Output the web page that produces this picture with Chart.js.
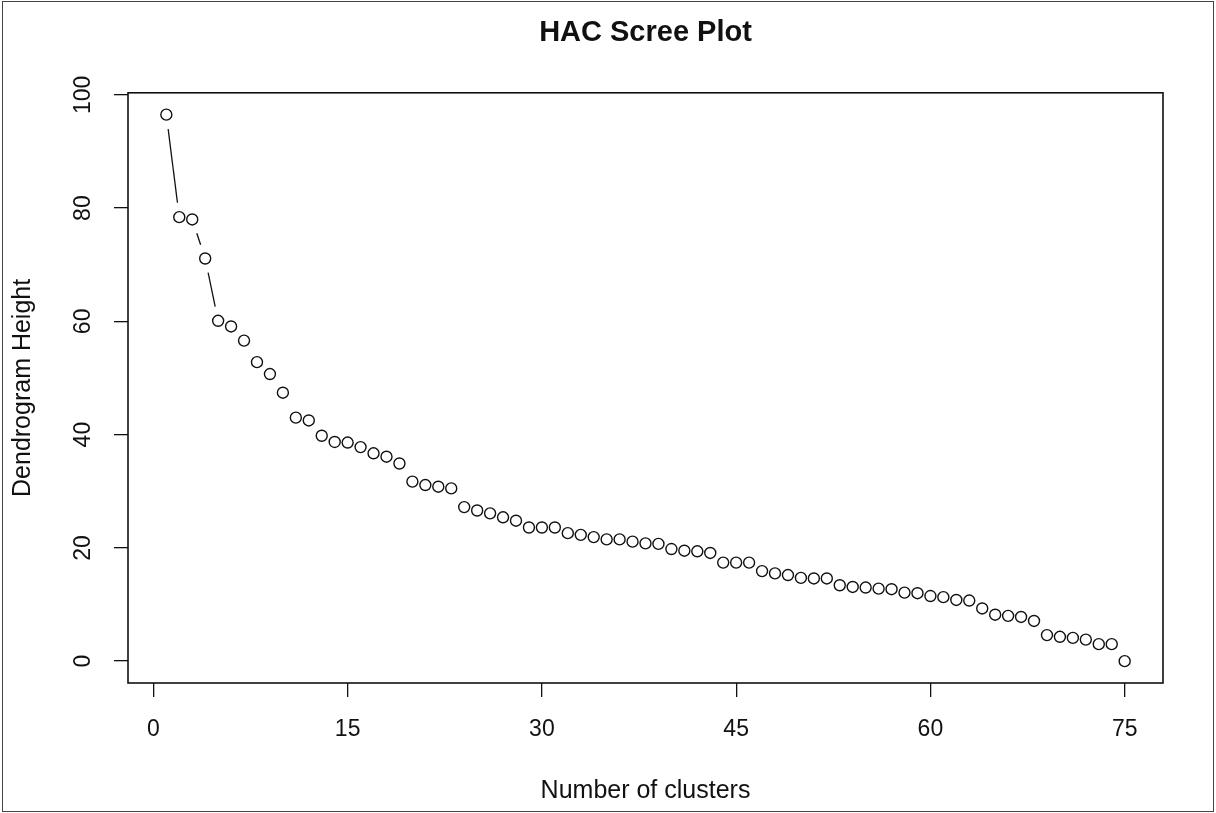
<!DOCTYPE html>
<html>
<head>
<meta charset="utf-8">
<title>HAC Scree Plot</title>
<script src="https://cdn.jsdelivr.net/npm/chart.js@4/dist/chart.umd.min.js"></script>
<style>
    body { margin: 0; background: #fff; }
    #wrap { width: 1216px; height: 813px; }
</style>
</head>
<body>
<div id="wrap"><canvas id="myChart" width="1216" height="813"></canvas></div>
<script>
// DATA
const clusters = [1, 2, 3, 4, 5, 6, 7, 8, 9, 10, 11, 12, 13, 14, 15, 16, 17, 18, 19, 20,
    21, 22, 23, 24, 25, 26, 27, 28, 29, 30, 31, 32, 33, 34, 35, 36, 37, 38, 39, 40,
    41, 42, 43, 44, 45, 46, 47, 48, 49, 50, 51, 52, 53, 54, 55, 56, 57, 58, 59, 60,
    61, 62, 63, 64, 65, 66, 67, 68, 69, 70, 71, 72, 73, 74, 75];
const heights = [96.5, 78.4, 78.0, 71.1, 60.1, 59.1, 56.6, 52.8, 50.7, 47.4,
    43.0, 42.5, 39.8, 38.7, 38.6, 37.8, 36.7, 36.1, 34.9, 31.7,
    31.1, 30.8, 30.5, 27.2, 26.6, 26.1, 25.4, 24.8, 23.6, 23.6,
    23.6, 22.6, 22.3, 21.9, 21.5, 21.5, 21.1, 20.8, 20.7, 19.8,
    19.5, 19.4, 19.1, 17.4, 17.4, 17.4, 15.9, 15.5, 15.2, 14.7,
    14.6, 14.6, 13.4, 13.1, 13.0, 12.8, 12.7, 12.1, 12.0, 11.5,
    11.3, 10.8, 10.7, 9.3, 8.2, 8.0, 7.8, 7.1, 4.6, 4.3,
    4.1, 3.8, 3.0, 3.0, 0.0];
const xTicks = [0, 15, 30, 45, 60, 75];
const yTicks = [0, 20, 40, 60, 80, 100];

const FONT = 'Liberation Sans, Arial, Helvetica, sans-serif';
const INK = '#111';

// R style "b" lines: segments between points, cut back near each circle
const gappedLines = {
    id: 'gappedLines',
    afterDatasetsDraw(chart) {
        const ctx = chart.ctx;
        const xs = chart.scales.x, ys = chart.scales.y;
        const gap = 14.5;
        ctx.save();
        ctx.strokeStyle = INK;
        ctx.lineWidth = 1.3;
        for (let i = 0; i < clusters.length - 1; i++) {
            let x1 = xs.getPixelForValue(clusters[i]), y1 = ys.getPixelForValue(heights[i]);
            let x2 = xs.getPixelForValue(clusters[i + 1]), y2 = ys.getPixelForValue(heights[i + 1]);
            let len = Math.hypot(x2 - x1, y2 - y1);
            if (len <= 2 * gap) continue;
            let ux = (x2 - x1) / len, uy = (y2 - y1) / len;
            ctx.beginPath();
            ctx.moveTo(x1 + ux * gap, y1 + uy * gap);
            ctx.lineTo(x2 - ux * gap, y2 - uy * gap);
            ctx.stroke();
        }
        ctx.restore();
    }
};

// box round the plot region and frame round the picture
const boxes = {
    id: 'boxes',
    afterDraw(chart) {
        const ctx = chart.ctx;
        const a = chart.chartArea;
        ctx.save();
        ctx.strokeStyle = INK;
        ctx.lineWidth = 1.6;
        ctx.strokeRect(a.left, a.top, a.right - a.left, a.bottom - a.top);
        ctx.strokeStyle = '#444';
        ctx.lineWidth = 1;
        ctx.strokeRect(2.5, 1.5, 1211, 810);
        ctx.restore();
    }
};

main();

function main() {
    const points = clusters.map((c, i) => ({ x: c, y: heights[i] }));

    new Chart(document.getElementById('myChart'), {
        type: 'scatter',
        data: {
            datasets: [{
                data: points,
                showLine: false,
                pointStyle: 'circle',
                pointRadius: 5.5,
                pointBorderWidth: 1.4,
                pointBorderColor: INK,
                pointBackgroundColor: 'rgba(0,0,0,0)'
            }]
        },
        options: {
            responsive: false,
            animation: false,
            layout: { padding: { left: 0, right: 53, top: 0, bottom: 0 } },
            plugins: {
                legend: { display: false },
                tooltip: { enabled: false },
                title: {
                    display: true,
                    text: 'HAC Scree Plot',
                    fullSize: false,
                    color: INK,
                    font: { family: FONT, size: 29, weight: 'bold', lineHeight: 1.2 },
                    padding: { top: 16, bottom: 42 }
                }
            },
            scales: {
                x: {
                    type: 'linear',
                    min: -1.96,
                    max: 77.96,
                    afterBuildTicks: (s) => { s.ticks = xTicks.map(v => ({ value: v })); },
                    afterFit: (s) => { s.height = 130; },
                    border: { display: false },
                    grid: { display: true, drawOnChartArea: false, drawTicks: true, tickLength: 14, color: INK, lineWidth: 1.3 },
                    ticks: { color: INK, padding: 19, maxRotation: 0, autoSkip: false, font: { family: FONT, size: 23 } },
                    title: {
                        display: true,
                        text: 'Number of clusters',
                        color: INK,
                        font: { family: FONT, size: 25, lineHeight: 1.2 },
                        padding: { top: 0, bottom: 7 }
                    }
                },
                y: {
                    type: 'linear',
                    min: -3.86,
                    max: 100.36,
                    afterBuildTicks: (s) => { s.ticks = yTicks.map(v => ({ value: v })); },
                    afterFit: (s) => { s.width = 128; },
                    border: { display: false },
                    grid: { display: true, drawOnChartArea: false, drawTicks: true, tickLength: 14, color: INK, lineWidth: 1.3 },
                    ticks: { color: INK, padding: 11, minRotation: 90, maxRotation: 90, crossAlign: 'center', autoSkip: false, font: { family: FONT, size: 23 } },
                    title: {
                        display: true,
                        text: 'Dendrogram Height',
                        color: INK,
                        font: { family: FONT, size: 25, lineHeight: 1.2 },
                        padding: { top: 8, bottom: 0 }
                    }
                }
            }
        },
        plugins: [gappedLines, boxes]
    });
}
</script>
</body>
</html>
